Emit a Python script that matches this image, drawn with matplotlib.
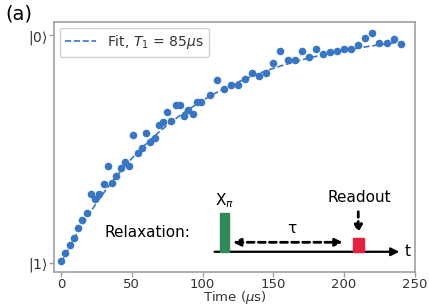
import numpy as np
import matplotlib
matplotlib.use("Agg")
import matplotlib.pyplot as plt

# Measured relaxation data: delay (us) and excited-state decay (0 = |1>, 1 = |0>)
t_data = [0, 3, 6, 9, 12, 15, 18, 21, 24, 27, 30, 33, 36, 39, 42, 45, 48,
          51, 54, 57, 60, 63, 66, 69, 72, 75, 78, 81, 84, 87, 90, 93, 96, 99,
          105, 110, 115, 120, 125, 130, 135, 140, 145, 150, 155, 160, 165,
          170, 175, 180, 185, 190, 195, 200, 205, 210, 215, 220, 225, 230,
          235, 240]
p_data = [0.007, 0.041, 0.076, 0.110, 0.152, 0.186, 0.220, 0.303, 0.278,
          0.303, 0.344, 0.423, 0.349, 0.382, 0.417, 0.444, 0.426,
          0.560, 0.482, 0.502, 0.571, 0.530, 0.549, 0.605, 0.617, 0.663,
          0.622, 0.691, 0.694, 0.643, 0.672, 0.653, 0.707, 0.707,
          0.735, 0.802, 0.764, 0.780, 0.782, 0.807, 0.832, 0.819, 0.834,
          0.876, 0.931, 0.890, 0.890, 0.929, 0.903, 0.940, 0.918, 0.925,
          0.928, 0.937, 0.937, 0.955, 0.988, 1.007, 0.966, 0.966, 0.982,
          0.959]

# Fit parameters
T1 = 85.0
FIT_AMP = 1.03

y_ticks = [0, 1]
y_ticklabels = [r"$|1\rangle$", r"$|0\rangle$"]
x_ticks = [0, 50, 100, 150, 200, 250]

BLUE = "#3776c6"
GREEN = "#2e8b57"
RED = "#e6213f"
GREY = "#a0a0a0"
TEXT = "#333333"

fig = plt.figure(figsize=(4.29, 3.06), dpi=100)
ax = fig.add_axes([0.126, 0.111, 0.841, 0.817])

ax.scatter(t_data, p_data, s=30, color=BLUE, zorder=3, linewidths=0)
t_fit = np.linspace(0, max(t_data), 300)
ax.plot(t_fit, FIT_AMP * (1 - np.exp(-t_fit / T1)), ls="--", color=BLUE,
        lw=1.2, label=r"Fit, $T_1$ = 85$\mu$s", zorder=2)

ax.set_xlim(-5, 250)
ax.set_ylim(-0.041, 1.057)
ax.set_xticks(x_ticks)
ax.set_yticks(y_ticks)
ax.set_yticklabels(y_ticklabels)
ax.set_xlabel(r"Time ($\mu$s)", fontsize=9.5, color=TEXT)
ax.xaxis.set_label_coords(0.5, -0.069)
ax.tick_params(labelsize=10, colors=GREY, labelcolor=TEXT, length=3.5,
               width=1, pad=1)
ax.tick_params(axis="x", labelsize=9.5, pad=0.8)
for s in ax.spines.values():
    s.set_color(GREY)
    s.set_linewidth(1.2)

leg = ax.legend(loc="upper left", fontsize=10, handlelength=2.2,
                borderaxespad=0.4, fancybox=True, framealpha=1)
for txt in leg.get_texts():
    txt.set_color(TEXT)
leg.get_frame().set_edgecolor("#d0d0d0")

# Pulse-sequence sketch (drawn in data coordinates)
base_y = 0.048
ax.annotate("", xy=(241, base_y), xytext=(106.5, base_y),
            arrowprops=dict(arrowstyle="-|>", color="black", lw=1.6,
                            mutation_scale=12))
ax.text(243, base_y, "t", fontsize=11, va="center", ha="left")
ax.add_patch(plt.Rectangle((112.3, base_y), 6.6, 0.217 - base_y,
                           color=GREEN, zorder=4))
ax.text(115.5, 0.272, r"X$_\pi$", fontsize=11, ha="center", va="center")
ax.add_patch(plt.Rectangle((206.4, base_y), 7.6, 0.107 - base_y,
                           color=RED, zorder=4))
ax.annotate("", xy=(201, 0.0896), xytext=(119.5, 0.0896),
            arrowprops=dict(arrowstyle="<|-|>", color="black", lw=2.0,
                            ls=(0, (2.5, 1.5)), mutation_scale=11))
ax.text(163.3, 0.15, r"τ", fontsize=11, ha="center", va="center")
ax.annotate("", xy=(210, 0.118), xytext=(210, 0.236),
            arrowprops=dict(arrowstyle="-|>", color="black", lw=2.0,
                            ls=(0, (2, 1.5)), mutation_scale=11))
ax.text(210.5, 0.285, "Readout", fontsize=11, ha="center", va="center")
ax.text(30.4, 0.133, "Relaxation:", fontsize=11, ha="left", va="center")

fig.text(0.012, 0.985, "(a)", fontsize=14, ha="left", va="top")

fig.savefig("out.png", dpi=100)
